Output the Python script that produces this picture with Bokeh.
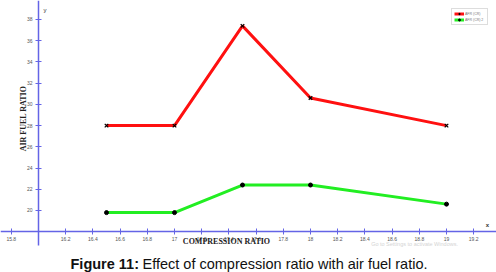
from bokeh.plotting import figure
from bokeh.models import (Range1d, LinearAxis, FixedTicker, Label, Legend, LegendItem,
                          CustomJSTickFormatter)
from bokeh.embed import file_html
from bokeh.resources import INLINE

# data
compression_ratio = [16.5, 17.0, 17.5, 18.0, 19.0]
afr_series1 = [28.0, 28.0, 37.4, 30.6, 28.0]
afr_series2 = [19.8, 19.8, 22.4, 22.4, 20.6]
series_names = ["AFR (CR)", "AFR (CR) 2"]
x_ticks = [15.8, 16.2, 16.4, 16.6, 16.8, 17.0, 17.2, 17.4, 17.6, 17.8, 18.0, 18.2, 18.4, 18.6, 18.8, 19.0, 19.2]
y_ticks = [20, 22, 24, 26, 28, 30, 32, 34, 36, 38]
x_origin = 16.0
y_origin = 18.0

p = figure(width=496, height=272, output_backend="svg", toolbar_location=None,
           x_range=Range1d(15.7206, 19.3676), y_range=Range1d(14.157, 39.79),
           x_axis_type=None, y_axis_type=None,
           min_border_left=0, min_border_right=0, min_border_top=0, min_border_bottom=0)
p.outline_line_color = None
p.grid.visible = False
p.background_fill_color = "white"

axis_color = "#6464e6"
xa = LinearAxis(fixed_location=y_origin, ticker=FixedTicker(ticks=x_ticks),
                axis_line_color=axis_color, axis_line_width=1.5,
                major_tick_line_color=axis_color, major_tick_in=3, major_tick_out=3,
                minor_tick_line_color=None,
                major_label_text_font_size="5px", major_label_text_color="#555555",
                major_label_standoff=2,
                formatter=CustomJSTickFormatter(code="return String(Math.round(tick*10)/10)"))
ya = LinearAxis(fixed_location=x_origin, ticker=FixedTicker(ticks=y_ticks), bounds=(16.7, 39.79),
                axis_line_color=axis_color, axis_line_width=1.5,
                major_tick_line_color=axis_color, major_tick_in=3, major_tick_out=3,
                minor_tick_line_color=None,
                major_label_text_font_size="5px", major_label_text_color="#555555",
                major_label_standoff=3, major_label_orientation="horizontal")
p.add_layout(xa, "below")
p.add_layout(ya, "left")

r1 = p.line(compression_ratio, afr_series1, line_color="#ff1010", line_width=3)
m1 = p.scatter(compression_ratio, afr_series1, marker="x", size=5, line_color="black", line_width=1.2)
r2 = p.line(compression_ratio, afr_series2, line_color="#22ee22", line_width=3)
m2 = p.scatter(compression_ratio, afr_series2, marker="circle", size=4, fill_color="black", line_color="black")

legend = Legend(items=[LegendItem(label=series_names[0], renderers=[r1, m1]),
                       LegendItem(label=series_names[1], renderers=[r2, m2])],
                location="top_right", label_text_font_size="3.5px", glyph_height=5, glyph_width=10,
                label_height=5, spacing=1, padding=2, margin=8, border_line_color="#bbbbbb",
                label_standoff=1, orientation="vertical", label_text_color="#777777")
p.add_layout(legend)

p.add_layout(Label(x=x_origin, y=39.79, x_offset=5, y_offset=-12, text="y", text_font_size="6px",
                   text_color="#333333"))
p.add_layout(Label(x=19.31, y=y_origin, x_offset=-3, y_offset=4, text="x", text_font_size="6px",
                   text_color="#333333", text_font_style="bold"))

p.add_layout(Label(x=17.382, y=y_origin, y_offset=-10, text="COMPRESSION RATIO", text_align="center",
                   text_baseline="middle",
                   text_font="Liberation Serif", text_font_style="bold", text_font_size="8px",
                   text_color="#222222"))
p.add_layout(Label(x=15.89, y=28.67, text="AIR FUEL RATIO", angle=1.5708, text_align="center",
                   text_baseline="middle",
                   text_font="Liberation Serif", text_font_style="bold", text_font_size="8px",
                   text_color="#222222"))
p.add_layout(Label(x=18.765, y=y_origin, y_offset=-12, text="Go to Settings to activate Windows.",
                   text_align="center", text_baseline="middle", text_font_size="5.5px",
                   text_color="#d4d4d4"))

p.add_layout(Label(x=70, y=9, x_units="screen", y_units="screen", text="Figure 11:",
                   text_font="Liberation Sans", text_font_style="bold", text_font_size="14.5px",
                   text_color="#111111", text_baseline="middle"))
p.add_layout(Label(x=142, y=9, x_units="screen", y_units="screen",
                   text="Effect of compression ratio with air fuel ratio.",
                   text_font="Liberation Sans", text_font_size="14.5px",
                   text_color="#111111", text_baseline="middle"))

open("out.html", "w").write(file_html(p, INLINE))
